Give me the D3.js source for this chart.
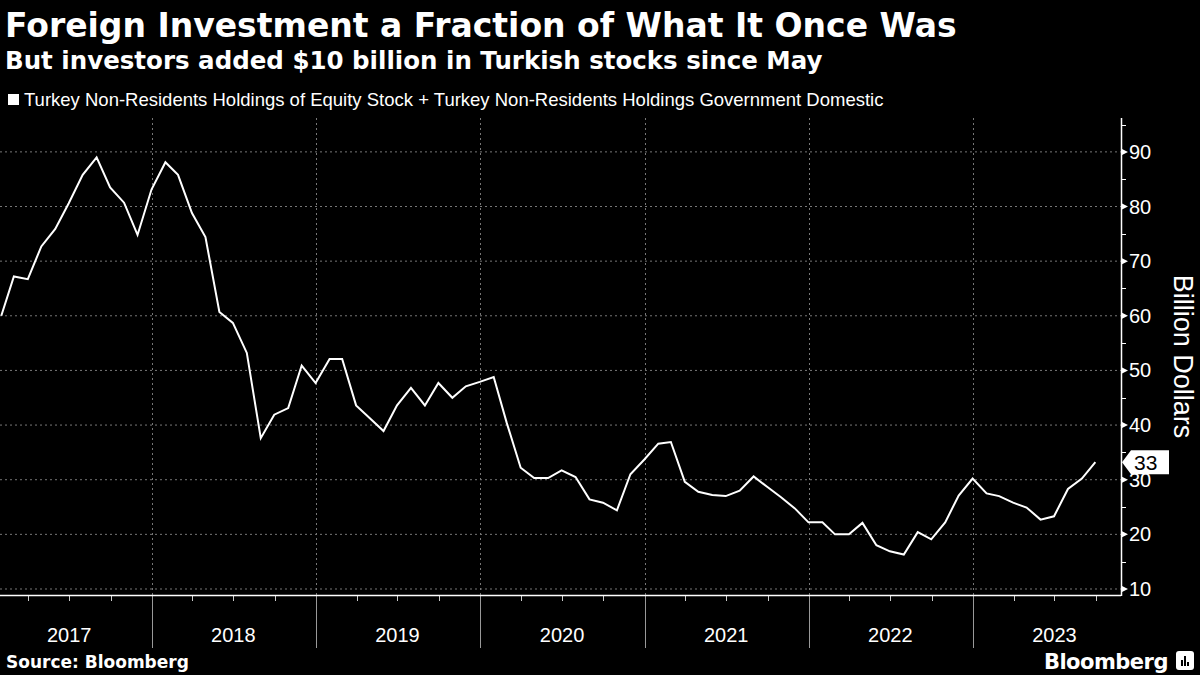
<!DOCTYPE html>
<html>
<head>
<meta charset="utf-8">
<script src="https://cdn.jsdelivr.net/npm/d3@7"></script>
<style>
	body { margin: 0; background: #000; }
	svg { display: block; }
	.title { font-family: "DejaVu Sans", sans-serif; font-weight: bold; fill: #fff; }
	.txt { font-family: "Liberation Sans", sans-serif; fill: #fff; }
</style>
</head>
<body>
<svg id="chart" width="1200" height="675"></svg>
<script>
// month of each observation (month end)
let months = [
	"2017-01","2017-02","2017-03","2017-04","2017-05","2017-06","2017-07","2017-08","2017-09","2017-10","2017-11","2017-12",
	"2018-01","2018-02","2018-03","2018-04","2018-05","2018-06","2018-07","2018-08","2018-09","2018-10","2018-11","2018-12",
	"2019-01","2019-02","2019-03","2019-04","2019-05","2019-06","2019-07","2019-08","2019-09","2019-10","2019-11","2019-12",
	"2020-01","2020-02","2020-03","2020-04","2020-05","2020-06","2020-07","2020-08","2020-09","2020-10","2020-11","2020-12",
	"2021-01","2021-02","2021-03","2021-04","2021-05","2021-06","2021-07","2021-08","2021-09","2021-10","2021-11","2021-12",
	"2022-01","2022-02","2022-03","2022-04","2022-05","2022-06","2022-07","2022-08","2022-09","2022-10","2022-11","2022-12",
	"2023-01","2023-02","2023-03","2023-04","2023-05","2023-06","2023-07","2023-08","2023-09"
];

// billion dollars
let holdings = [
	60.0, 67.2, 66.7, 72.7, 75.9, 80.6, 85.8, 89.0, 83.5, 80.7, 74.8, 83.1,
	88.1, 85.8, 78.8, 74.4, 60.7, 58.7, 53.2, 37.6, 41.9, 43.1, 50.9, 47.7,
	52.1, 52.1, 43.6, 41.3, 38.9, 43.6, 46.8, 43.6, 47.7, 45.0, 47.1, 47.9,
	48.8, 40.4, 32.2, 30.3, 30.3, 31.7, 30.5, 26.4, 25.8, 24.4, 31.0, 33.7,
	36.6, 36.9, 29.6, 27.8, 27.2, 27.0, 28.0, 30.6, 28.7, 26.8, 24.8, 22.2,
	22.2, 20.0, 20.0, 22.1, 18.0, 16.9, 16.3, 20.4, 19.1, 22.2, 27.1, 30.2,
	27.5, 27.0, 25.8, 24.9, 22.7, 23.3, 28.3, 30.2, 33.2
];

let years = ["2017", "2018", "2019", "2020", "2021", "2022", "2023"];
let yTicks = [10, 20, 30, 40, 50, 60, 70, 80, 90];
let yMinorTicks = [15, 25, 35, 45, 55, 65, 75, 85, 95];
let lastLabel = "33";

let titleText = "Foreign Investment a Fraction of What It Once Was";
let subtitleText = "But investors added $10 billion in Turkish stocks since May";
let legendText = "Turkey Non-Residents Holdings of Equity Stock + Turkey Non-Residents Holdings Government Domestic";
let axisTitle = "Billion Dollars";
let sourceText = "Source: Bloomberg";

const plotLeft = 0;
const plotRight = 1121;
const plotTop = 118;
const plotBottom = 595;

let svg = d3.select("#chart");

svg.append("rect")
	.attr("width", 1200)
	.attr("height", 675)
	.attr("fill", "#000");

function monthEnd(s) {
	let d = d3.timeParse("%Y-%m")(s);
	return d3.timeDay.offset(d3.timeMonth.offset(d, 1), -1);
}

let data = months.map(function(m, i) {
	return { date: monthEnd(m), value: holdings[i] };
});

let x = d3.scaleTime()
	.domain([new Date(2017, 0, 1), new Date(2024, 0, 1)])
	.range([-12.2, 1137.2]);

let y = d3.scaleLinear()
	.domain([8.9, 96.2])
	.range([plotBottom, plotTop]);

// titles
svg.append("text")
	.attr("class", "title")
	.attr("x", 5)
	.attr("y", 37)
	.attr("font-size", "33px")
	.text(titleText);

svg.append("text")
	.attr("class", "title")
	.attr("x", 5)
	.attr("y", 69)
	.attr("font-size", "24.5px")
	.text(subtitleText);

// legend
svg.append("rect")
	.attr("x", 8)
	.attr("y", 94)
	.attr("width", 11)
	.attr("height", 11)
	.attr("fill", "#fff");

svg.append("text")
	.attr("class", "txt")
	.attr("x", 24)
	.attr("y", 106)
	.attr("font-size", "18.5px")
	.attr("fill", "#ddd")
	.text(legendText);

// horizontal grid
svg.append("g")
	.selectAll("line")
	.data(yTicks)
	.enter()
	.append("line")
	.attr("x1", plotLeft)
	.attr("x2", plotRight)
	.attr("y1", function(d) { return y(d); })
	.attr("y2", function(d) { return y(d); })
	.attr("stroke", "#777")
	.attr("stroke-width", 1)
	.attr("stroke-dasharray", "2,3");

// vertical grid at year boundaries
let yearStarts = years.slice(1).map(function(yr) { return new Date(+yr, 0, 1); });

svg.append("g")
	.selectAll("line")
	.data(yearStarts)
	.enter()
	.append("line")
	.attr("x1", function(d) { return Math.round(x(d)) + 0.5; })
	.attr("x2", function(d) { return Math.round(x(d)) + 0.5; })
	.attr("y1", plotTop)
	.attr("y2", plotBottom)
	.attr("stroke", "#777")
	.attr("stroke-width", 1)
	.attr("stroke-dasharray", "2,3");

// year separators below the axis
svg.append("g")
	.selectAll("line")
	.data(yearStarts)
	.enter()
	.append("line")
	.attr("x1", function(d) { return Math.round(x(d)) + 0.5; })
	.attr("x2", function(d) { return Math.round(x(d)) + 0.5; })
	.attr("y1", plotBottom)
	.attr("y2", 648)
	.attr("stroke", "#999")
	.attr("stroke-width", 1);

// quarterly ticks
let quarters = d3.timeMonth.every(3).range(new Date(2017, 0, 1), new Date(2024, 0, 1))
	.filter(function(d) { return d.getMonth() !== 0 && x(d) < plotRight; });

svg.append("g")
	.selectAll("line")
	.data(quarters)
	.enter()
	.append("line")
	.attr("x1", function(d) { return Math.round(x(d)) + 0.5; })
	.attr("x2", function(d) { return Math.round(x(d)) + 0.5; })
	.attr("y1", plotBottom)
	.attr("y2", plotBottom + 6)
	.attr("stroke", "#ccc")
	.attr("stroke-width", 1);

// year labels centred in each year
svg.append("g")
	.selectAll("text")
	.data(years)
	.enter()
	.append("text")
	.attr("class", "txt")
	.attr("x", function(d) {
		let mid = new Date(+d, 6, 1);
		return x(mid);
	})
	.attr("y", 642)
	.attr("text-anchor", "middle")
	.attr("font-size", "20px")
	.text(function(d) { return d; });

// x axis line
svg.append("line")
	.attr("x1", plotLeft)
	.attr("x2", plotRight)
	.attr("y1", plotBottom + 0.5)
	.attr("y2", plotBottom + 0.5)
	.attr("stroke", "#fff")
	.attr("stroke-width", 1.5);

// y axis on the right
svg.append("line")
	.attr("x1", plotRight + 0.5)
	.attr("x2", plotRight + 0.5)
	.attr("y1", plotTop)
	.attr("y2", plotBottom + 1)
	.attr("stroke", "#fff")
	.attr("stroke-width", 1.5);

svg.append("g")
	.selectAll("line")
	.data(yMinorTicks.filter(function(d) { return y(d) > plotTop; }))
	.enter()
	.append("line")
	.attr("x1", plotRight)
	.attr("x2", plotRight + 5)
	.attr("y1", function(d) { return Math.round(y(d)) + 0.5; })
	.attr("y2", function(d) { return Math.round(y(d)) + 0.5; })
	.attr("stroke", "#fff")
	.attr("stroke-width", 1);

svg.append("g")
	.selectAll("path")
	.data(yTicks)
	.enter()
	.append("path")
	.attr("d", function(d) {
		let ty = y(d);
		return "M" + (plotRight + 1) + "," + (ty - 3) + "L" + (plotRight + 7) + "," + ty + "L" + (plotRight + 1) + "," + (ty + 3) + "Z";
	})
	.attr("fill", "#fff");

svg.append("g")
	.selectAll("text")
	.data(yTicks)
	.enter()
	.append("text")
	.attr("class", "txt")
	.attr("x", plotRight + 8)
	.attr("y", function(d) { return y(d) + 7; })
	.attr("font-size", "20px")
	.text(function(d) { return d; });

svg.append("text")
	.attr("class", "txt")
	.attr("transform", "translate(1174," + ((plotTop + plotBottom) / 2) + ") rotate(90)")
	.attr("text-anchor", "middle")
	.attr("font-size", "27px")
	.attr("fill", "#ddd")
	.text(axisTitle);

// the line
svg.append("clipPath")
	.attr("id", "plotClip")
	.append("rect")
	.attr("x", plotLeft)
	.attr("y", plotTop)
	.attr("width", plotRight - plotLeft)
	.attr("height", plotBottom - plotTop);

let line = d3.line()
	.x(function(d) { return x(d.date); })
	.y(function(d) { return y(d.value); });

svg.append("path")
	.datum(data)
	.attr("clip-path", "url(#plotClip)")
	.attr("fill", "none")
	.attr("stroke", "#fff")
	.attr("stroke-width", 2)
	.attr("stroke-linejoin", "miter")
	.attr("d", line);

// last value tag
let lastY = y(holdings[holdings.length - 1]);
let tag = svg.append("g")
	.attr("transform", "translate(" + (plotRight + 1) + "," + lastY + ")");

tag.append("path")
	.attr("d", "M0,0L9,-12L47,-12L47,12L9,12Z")
	.attr("fill", "#fff");

tag.append("text")
	.attr("class", "txt")
	.attr("x", 12)
	.attr("y", 8)
	.attr("font-size", "21px")
	.style("fill", "#000")
	.text(lastLabel);

// footer
svg.append("text")
	.attr("class", "title")
	.attr("x", 6)
	.attr("y", 668)
	.attr("font-size", "17px")
	.text(sourceText);

svg.append("text")
	.attr("class", "title")
	.attr("x", 1168)
	.attr("y", 669)
	.attr("text-anchor", "end")
	.attr("font-size", "21px")
	.attr("letter-spacing", "-0.5px")
	.text("Bloomberg");

let logo = svg.append("g")
	.attr("transform", "translate(1176,651)");

logo.append("rect")
	.attr("width", 18)
	.attr("height", 19)
	.attr("rx", 3)
	.attr("fill", "#fff");

logo.selectAll(".bar")
	.data([6, 10, 4])
	.enter()
	.append("rect")
	.attr("x", function(d, i) { return 5 + i * 3; })
	.attr("y", function(d) { return 15 - d; })
	.attr("width", 2)
	.attr("height", function(d) { return d; })
	.attr("fill", "#000");
</script>
</body>
</html>
